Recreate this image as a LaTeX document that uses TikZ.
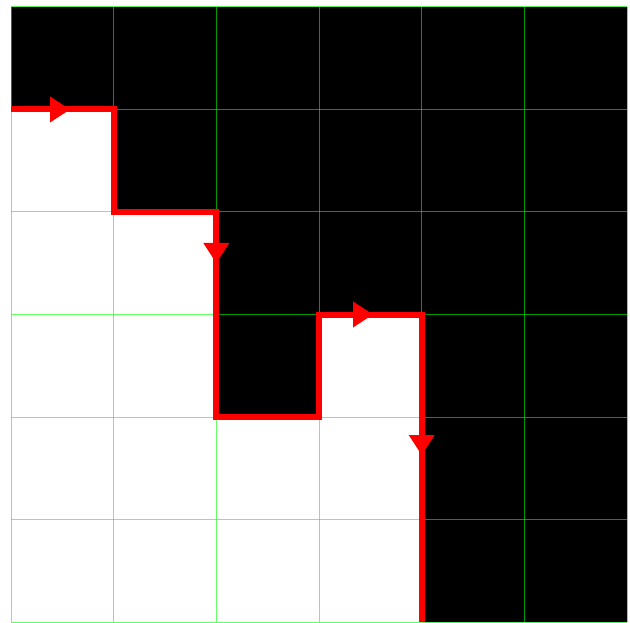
\documentclass[tikz,border=0pt]{standalone}
\begin{document}
\begin{tikzpicture}[x=1pt,y=-1pt,
  gridline/.style={draw=green,opacity=0.6,line width=1pt},
  redpath/.style={draw=red,line width=6pt,line join=miter},
  tip/.style={fill=red,draw=none}]
\useasboundingbox (0,0) rectangle (630,623);
\fill[white] (0,0) rectangle (630,623);
% path vertices
\coordinate (p0) at (11,109.5);
\coordinate (p1) at (113.7,109.5);
\coordinate (p2) at (113.7,212);
\coordinate (p3) at (216.3,212);
\coordinate (p4) at (216.3,417);
\coordinate (p5) at (319,417);
\coordinate (p6) at (319,314.5);
\coordinate (p7) at (421.7,314.5);
\coordinate (p8) at (421.7,622);
% black region
\fill[black] (11,7) -- (627,7) -- (627,622) -- (p8) -- (p7) -- (p6) -- (p5) -- (p4) -- (p3) -- (p2) -- (p1) -- (p0) -- cycle;
% grid
\foreach \i in {0,...,6} {
  \draw[gridline] ({11+\i*102.667},7) -- ({11+\i*102.667},622);
  \draw[gridline] (11,{7+\i*102.5}) -- (627,{7+\i*102.5});
}
% red path
\draw[redpath] (p0) -- (p1) -- (p2) -- (p3) -- (p4) -- (p5) -- (p6) -- (p7) -- (p8);
% arrowheads
\fill[tip] (50,96.5) -- (70,109.5) -- (50,122.5) -- cycle;
\fill[tip] (203.3,243) -- (216.3,263) -- (229.3,243) -- cycle;
\fill[tip] (353,301.5) -- (373,314.5) -- (353,327.5) -- cycle;
\fill[tip] (408.7,435) -- (421.7,455) -- (434.7,435) -- cycle;
\end{tikzpicture}
\end{document}
